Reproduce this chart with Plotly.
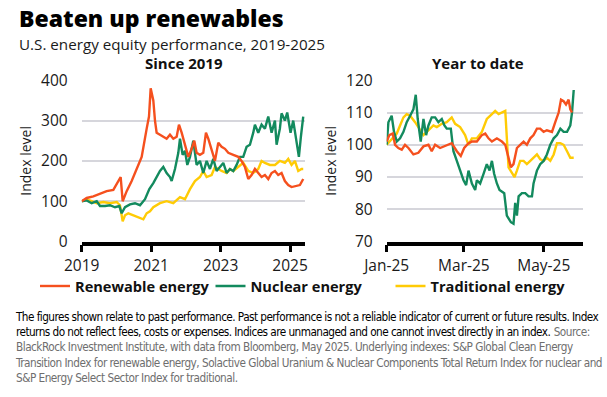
import plotly.graph_objects as go
import pandas as pd

# ---------------- data: Since 2019 (years since 2019-01-01) ----------------
ren_t = [0, .144, .336, .528, .719, .911, 1.055, 1.122, 1.180, 1.295, 1.439, 1.583, 1.727, 1.871, 1.938, 1.986,
         2.062, 2.110, 2.158, 2.254, 2.350, 2.446, 2.542, 2.638, 2.734, 2.801, 2.878, 2.974, 3.070, 3.165, 3.242,
         3.309, 3.405, 3.501, 3.578, 3.645, 3.741, 3.837, 3.933, 4.029, 4.125, 4.221, 4.365, 4.508, 4.604, 4.700,
         4.796, 4.892, 4.988, 5.084, 5.180, 5.276, 5.372, 5.468, 5.564, 5.659, 5.755, 5.851, 5.947, 6.043, 6.139,
         6.235, 6.283, 6.379]
ren_v = [100, 108, 112, 118, 125, 128, 150, 160, 100, 125, 150, 180, 210, 280, 310, 380,
         350, 300, 270, 265, 260, 255, 265, 255, 260, 290, 270, 240, 210, 230, 250,
         220, 215, 220, 270, 255, 230, 200, 245, 235, 230, 220, 215, 210, 200, 185,
         155, 165, 180, 170, 160, 165, 155, 170, 175, 165, 170, 150, 140, 135, 137,
         140, 140, 155]

nuc_t = [0, .144, .288, .432, .528, .671, .815, .959, 1.084, 1.151, 1.247, 1.391, 1.535, 1.679, 1.823,
         1.947, 2.062, 2.158, 2.254, 2.350, 2.446, 2.542, 2.590, 2.686, 2.782, 2.830, 2.906, 2.974, 3.041,
         3.118, 3.213, 3.309, 3.405, 3.501, 3.597, 3.693, 3.789, 3.885, 3.981, 4.077, 4.173, 4.269, 4.365,
         4.460, 4.556, 4.652, 4.748, 4.844, 4.940, 4.988, 5.084, 5.180, 5.276, 5.372, 5.468, 5.564, 5.612,
         5.707, 5.755, 5.851, 5.918, 6.014, 6.091, 6.187, 6.254, 6.312, 6.379]
nuc_v = [100, 102, 95, 100, 88, 88, 90, 85, 88, 70, 85, 92, 95, 90, 105,
         130, 145, 160, 175, 185, 170, 160, 150, 180, 220, 255, 215, 225, 190,
         210, 250, 190, 200, 170, 200, 180, 205, 175, 185, 195, 170, 180, 175,
         190, 210, 210, 235, 240, 270, 290, 270, 290, 280, 310, 270, 300, 240,
         280, 318, 300, 320, 270, 300, 240, 210, 260, 310]

trad_t = [0, .144, .288, .432, .624, .815, 1.007, 1.103, 1.180, 1.247, 1.343, 1.487, 1.631, 1.775, 1.871,
          1.966, 2.062, 2.254, 2.446, 2.638, 2.830, 2.974, 3.118, 3.261, 3.405, 3.501, 3.597, 3.741, 3.837,
          3.933, 4.029, 4.173, 4.269, 4.365, 4.508, 4.652, 4.796, 4.940, 5.084, 5.180, 5.276, 5.420, 5.564,
          5.707, 5.851, 5.947, 6.043, 6.139, 6.235, 6.331, 6.379]
trad_v = [100, 104, 100, 95, 98, 95, 98, 90, 50, 65, 70, 65, 60, 55, 70,
          75, 85, 95, 100, 95, 110, 105, 130, 150, 160, 175, 160, 165, 185,
          180, 175, 170, 180, 175, 185, 195, 175, 170, 180, 200, 195, 190, 190,
          200, 195, 205, 190, 200, 175, 180, 180]

# ---------------- data: Year to date (days since 2025-01-01) ----------------
ytd_nuc_d = [0, 1.3, 3.8, 5.6, 7.7, 10.2, 12.8, 15.3, 17.9, 20.4, 22.2, 23.7, 26.0, 28.1, 30.1, 31.9, 34.4,
             37.0, 39.5, 42.1, 44.1, 45.9, 49.0, 51.0, 53.6, 56.1, 58.7, 60.7, 62.5, 65.1, 67.6, 68.9, 71.4,
             74.0, 76.5, 78.6, 80.4, 82.1, 84.2, 86.2, 88.0, 89.8, 91.8, 94.9, 96.9, 98.2, 99.5, 100.8, 103.3,
             105.9, 108.4, 111.0, 112.2, 114.8, 117.3, 119.9, 122.4, 125.0, 127.6, 130.1, 132.7, 135.2, 137.8,
             140.3, 141.6, 142.9]
ytd_nuc_v = [100, 107, 109, 104, 101, 102, 104, 107, 109, 111, 115.5, 108, 101, 108, 103, 106, 108.5,
             108.5, 107, 108, 106, 105, 105, 98, 95, 92, 89, 87.5, 92, 88, 86, 89, 88,
             91, 94, 92, 95, 91, 88, 86, 85.5, 85, 78, 76, 75.5, 82, 78, 84, 85,
             85, 84, 84, 88, 92, 94, 95, 97, 100, 102, 103, 105, 104, 104,
             106, 110, 117]

ytd_ren_d = [0, 2.0, 4.6, 6.4, 8.9, 11.5, 14.0, 16.6, 20.4, 24.2, 28.1, 31.9, 34.4, 37.0, 40.8, 45.9, 49.7,
             53.6, 56.6, 59.2, 62.5, 65.1, 68.9, 72.7, 75.3, 77.8, 80.4, 84.2, 88.0, 90.6, 93.1, 94.9, 96.9,
             99.5, 102.0, 104.6, 107.1, 109.7, 112.2, 114.8, 117.3, 119.9, 122.4, 126.3, 128.8, 131.4, 133.2,
             135.2, 137.0, 139.0, 140.3, 141.6]
ytd_ren_v = [101, 103, 103.5, 100, 99, 98.5, 100, 99, 97, 97.5, 99.5, 100, 98, 100, 99, 100, 100.5,
             98, 96.5, 99, 100.5, 101, 101, 103, 103.5, 102, 101, 102, 101, 100, 96, 93, 94,
             99, 100, 101, 100, 102, 103, 105, 105, 104, 104.5, 104, 107, 110, 114,
             113.5, 112.5, 114, 111, 110]

ytd_trad_d = [0, 2.0, 5.1, 7.7, 10.2, 12.8, 15.3, 17.9, 21.7, 24.2, 28.1, 30.6, 33.2, 35.7, 38.3, 42.1, 45.9,
              49.7, 52.3, 56.1, 59.9, 62.5, 65.1, 68.9, 72.7, 76.5, 80.4, 82.9, 85.5, 88.0, 90.6, 93.1, 95.7,
              97.7, 99.5, 102.0, 104.6, 107.1, 109.7, 112.2, 114.8, 117.3, 119.9, 122.4, 125.0, 127.6, 130.1,
              132.7, 135.2, 137.8, 140.3, 142.9]
ytd_trad_v = [100, 101, 102.5, 103.5, 106, 108.5, 109.5, 109, 107, 105.5, 103, 104, 105, 106, 105.5, 106.5, 107,
              108.5, 106.5, 105.5, 103, 100, 102, 102, 104, 108, 109.5, 110.5, 109.5, 110, 110.5, 93, 91.5,
              90, 92, 95, 95, 94, 95, 96, 97, 95.5, 95, 96, 95, 97, 100.5,
              100.5, 100, 98, 96, 96]

series_names = ["Renewable energy", "Nuclear energy", "Traditional energy"]
colors = ["#F5501E", "#138A5E", "#FFCB05"]

left_ticks = [2019, 2021, 2023, 2025]
right_ticks = ["2025-01-01", "2025-03-01", "2025-05-01"]
right_ticktext = ["Jan-25", "Mar-25", "May-25"]

W, H = 607, 397


def px(x):
    return x / W


def py(y):
    return 1 - y / H


def yrs(t):
    return [2019 + v for v in t]


def days(d):
    base = pd.Timestamp("2025-01-01")
    return [base + pd.Timedelta(days=v) for v in d]


fig = go.Figure()
left = [(ren_t, ren_v), (nuc_t, nuc_v), (trad_t, trad_v)]
right = [(ytd_ren_d, ytd_ren_v), (ytd_nuc_d, ytd_nuc_v), (ytd_trad_d, ytd_trad_v)]
legends = ["legend", "legend2", "legend3"]
for i in [2, 1, 0]:
    t, v = left[i]
    fig.add_trace(go.Scatter(x=yrs(t), y=v, mode="lines", name=series_names[i],
                             line=dict(color=colors[i], width=2.4), xaxis="x", yaxis="y",
                             legend=legends[i], showlegend=True))
for i in [2, 1, 0]:
    d, v = right[i]
    fig.add_trace(go.Scatter(x=days(d), y=v, mode="lines", name=series_names[i],
                             line=dict(color=colors[i], width=2.4), xaxis="x2", yaxis="y2",
                             showlegend=False))

FONT = "Open Sans"
tickfont = dict(family=FONT, size=15.5, color="#1a1a1a")
grid = "#d6d6dc"
ydom = [py(241.5), py(80.3)]

axis_common_x = dict(showline=True, linecolor="#000", linewidth=3.5, ticks="outside", ticklen=7,
                     tickwidth=2.5, tickcolor="#000", showgrid=False, zeroline=False, tickfont=tickfont,
                     fixedrange=True, automargin=False)
axis_common_y = dict(showgrid=True, gridcolor=grid, gridwidth=1.5, showline=False, ticks="",
                     zeroline=False, tickfont=tickfont, ticklabelstandoff=13, automargin=False,
                     fixedrange=True,
                     title=dict(text="Index level", font=dict(family=FONT, size=14, color="#1a1a1a"),
                                standoff=6))

legend_common = dict(orientation="h", yanchor="middle", y=py(286), xanchor="left",
                     font=dict(family=FONT, size=14.6, color="#111", weight="bold"),
                     bgcolor="rgba(0,0,0,0)", itemwidth=30, tracegroupgap=0)

fig.update_layout(
    width=W, height=H,
    margin=dict(l=0, r=0, t=0, b=0, autoexpand=False),
    paper_bgcolor="white", plot_bgcolor="white",
    hovermode=False,
    xaxis=dict(domain=[px(81.7), px(305)], range=[2019, 2025.43], tickvals=left_ticks,
               anchor="y", **axis_common_x),
    yaxis=dict(domain=ydom, range=[0, 400], tickvals=[0, 100, 200, 300, 400], anchor="x",
               **axis_common_y),
    xaxis2=dict(domain=[px(386.7), px(583)], type="date", range=["2025-01-01", "2025-05-31"],
                tickvals=right_ticks, ticktext=right_ticktext, anchor="y2", **axis_common_x),
    yaxis2=dict(domain=ydom, range=[70, 120], tickvals=[70, 80, 90, 100, 110, 120], anchor="x2",
                **axis_common_y),
    legend=dict(x=px(35), **legend_common),
    legend2=dict(x=px(210.5), **legend_common),
    legend3=dict(x=px(390.5), **legend_common),
    showlegend=True,
)

FOOT = "Liberation Sans Narrow, DejaVu Sans Condensed, Liberation Sans"
blk = "<span style='letter-spacing:-0.55px;fill:#000'>"
gry = "<span style='letter-spacing:-0.5px;fill:#6e6e6e'>"
foot_lines = [
    blk + "The figures shown relate to past performance. Past performance is not a reliable indicator of current or future results. Index</span>",
    blk + "returns do not reflect fees, costs or expenses. Indices are unmanaged and one cannot invest directly in an index.</span> " + gry + "Source:</span>",
    gry + "BlackRock Investment Institute, with data from Bloomberg, May 2025. Underlying indexes: S&amp;P Global Clean Energy</span>",
    gry + "Transition Index for renewable energy, Solactive Global Uranium &amp; Nuclear Components Total Return Index for nuclear and</span>",
    gry + "S&amp;P Energy Select Sector Index for traditional.</span>",
]

header = ("<span style='font-size:23px;font-weight:800;fill:#000'>Beaten up renewables</span><br>"
          "<span style='font-size:15.2px;fill:#1a1a1a'>U.S. energy equity performance, 2019-2025</span>")

annotations = [
    dict(text=header, x=px(17), y=1.0, xanchor="left", yanchor="top", align="left",
         font=dict(family=FONT, size=18, color="#000")),
    dict(text="<b>Since 2019</b>", x=px(184), y=py(63), xanchor="center", yanchor="middle",
         font=dict(family=FONT, size=15, color="#111")),
    dict(text="<b>Year to date</b>", x=px(478), y=py(63), xanchor="center", yanchor="middle",
         font=dict(family=FONT, size=15, color="#111")),
    dict(text="<br>".join(foot_lines),
         x=px(13), y=py(308), xanchor="left", yanchor="top", align="left",
         font=dict(family=FOOT, size=11.7, color="#111")),
]
for a in annotations:
    a.update(xref="paper", yref="paper", showarrow=False)
fig.update_layout(annotations=annotations)

fig.write_html("out.html", config={"displayModeBar": False},
               post_script="document.body.style.margin='0';")
